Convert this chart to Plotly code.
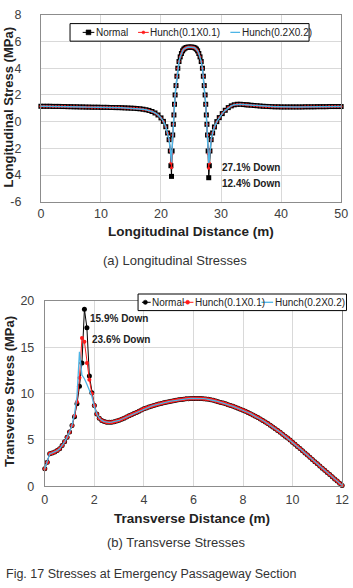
import plotly.graph_objects as go

W, H = 353, 588

# ---------------- data: (a) longitudinal stresses ----------------
long_x = [0, 0.5, 1, 1.5, 2, 2.5, 3, 3.5, 4, 4.5, 5, 5.5, 6, 6.5, 7, 7.5, 8, 8.5, 9, 9.5,
          10, 10.5, 11, 11.5, 12, 12.5, 13, 13.5, 14, 14.5, 15, 15.5, 16, 16.5, 17,
          17.5, 18, 18.5, 19, 19.5, 20, 20.4, 20.8, 21.1, 21.35, 21.55, 21.65,
          21.75,
          21.85, 21.95, 22.05, 22.15, 22.25, 22.35, 22.5, 22.65, 22.8, 23.0, 23.2, 23.4, 23.6, 23.8, 24.0, 24.2, 24.4, 24.6,
          24.85,
          25.1, 25.3, 25.5, 25.7, 25.9, 26.1, 26.3, 26.5, 26.7, 26.9, 27.05, 27.2, 27.35, 27.45, 27.55, 27.65, 27.75, 27.85,
          27.95,
          28.05, 28.15, 28.35, 28.6, 28.9, 29.3, 29.7, 30.2, 30.7, 31.2, 31.7, 32.2, 32.7, 33.2, 33.7, 34.2,
          34.5, 35, 35.5, 36, 36.5, 37, 37.5, 38, 38.5, 39, 39.5, 40, 40.5, 41, 41.5, 42, 42.5, 43, 43.5,
          44, 44.5, 45, 45.5, 46, 46.5, 47, 47.5, 48, 48.5, 49, 49.5, 50]

long_normal = [1.15, 1.15, 1.15, 1.15, 1.14, 1.14, 1.14, 1.13, 1.13, 1.12, 1.12, 1.11, 1.11, 1.10, 1.10, 1.09, 1.09, 1.08, 1.08, 1.08,
               1.07, 1.07, 1.07, 1.06, 1.06, 1.05, 1.05, 1.04, 1.03, 1.02, 1.01, 1.00, 0.98, 0.96, 0.93,
               0.89, 0.84, 0.76, 0.65, 0.50, 0.28, 0.02, -0.38, -0.85, -1.35, -2.2, -3.3,
               -4.1,
               -2.2, -1.0, -0.2, 0.5, 1.3, 2.0, 2.7, 3.4, 4.0, 4.5, 4.85, 5.1, 5.3, 5.43, 5.5, 5.55, 5.57, 5.58,
               5.58,
               5.58, 5.57, 5.55, 5.5, 5.43, 5.3, 5.1, 4.85, 4.5, 4.0, 3.4, 2.7, 2.0, 1.3, 0.5, -0.2, -1.0, -2.2,
               -4.2,
               -3.3, -2.2, -1.35, -0.85, -0.4, 0.0, 0.3, 0.6, 0.85, 1.05, 1.18, 1.26, 1.30, 1.30, 1.28, 1.26,
               1.25, 1.23, 1.21, 1.19, 1.17, 1.15, 1.14, 1.13, 1.12, 1.11, 1.11, 1.10, 1.10, 1.10, 1.10, 1.10, 1.10, 1.10, 1.10,
               1.11, 1.11, 1.11, 1.11, 1.12, 1.12, 1.12, 1.12, 1.13, 1.13, 1.13, 1.13, 1.13]

long_hunch1 = [1.15, 1.15, 1.15, 1.15, 1.14, 1.14, 1.14, 1.13, 1.13, 1.12, 1.12, 1.11, 1.11, 1.10, 1.10, 1.09, 1.09, 1.08, 1.08, 1.08,
               1.07, 1.07, 1.07, 1.06, 1.06, 1.05, 1.05, 1.04, 1.03, 1.02, 1.01, 1.00, 0.98, 0.96, 0.93,
               0.89, 0.84, 0.76, 0.65, 0.50, 0.28, 0.02, -0.38, -0.85, -1.35, -2.2, -3.1,
               -3.45,
               -2.4, -1.0, -0.2, 0.5, 1.3, 2.0, 2.7, 3.4, 4.0, 4.5, 4.85, 5.1, 5.3, 5.43, 5.5, 5.55, 5.57, 5.58,
               5.58,
               5.58, 5.57, 5.55, 5.5, 5.43, 5.3, 5.1, 4.85, 4.5, 4.0, 3.4, 2.7, 2.0, 1.3, 0.5, -0.2, -1.0, -2.4,
               -3.5,
               -3.1, -2.2, -1.35, -0.85, -0.4, 0.0, 0.3, 0.6, 0.85, 1.05, 1.18, 1.26, 1.30, 1.30, 1.28, 1.26,
               1.25, 1.23, 1.21, 1.19, 1.17, 1.15, 1.14, 1.13, 1.12, 1.11, 1.11, 1.10, 1.10, 1.10, 1.10, 1.10, 1.10, 1.10, 1.10,
               1.11, 1.11, 1.11, 1.11, 1.12, 1.12, 1.12, 1.12, 1.13, 1.13, 1.13, 1.13, 1.13]

long_hunch2 = [1.15, 1.15, 1.15, 1.15, 1.14, 1.14, 1.14, 1.13, 1.13, 1.12, 1.12, 1.11, 1.11, 1.10, 1.10, 1.09, 1.09, 1.08, 1.08, 1.08,
               1.07, 1.07, 1.07, 1.06, 1.06, 1.05, 1.05, 1.04, 1.03, 1.02, 1.01, 1.00, 0.98, 0.96, 0.93,
               0.89, 0.84, 0.76, 0.65, 0.50, 0.28, 0.02, -0.38, -0.85, -1.35, -2.1, -2.8,
               -3.05,
               -2.0, -1.0, -0.2, 0.5, 1.3, 2.0, 2.7, 3.4, 4.0, 4.5, 4.85, 5.1, 5.3, 5.43, 5.5, 5.55, 5.57, 5.58,
               5.58,
               5.58, 5.57, 5.55, 5.5, 5.43, 5.3, 5.1, 4.85, 4.5, 4.0, 3.4, 2.7, 2.0, 1.3, 0.5, -0.2, -1.0, -2.0,
               -3.1,
               -2.8, -2.1, -1.35, -0.85, -0.4, 0.0, 0.3, 0.6, 0.85, 1.05, 1.18, 1.26, 1.30, 1.30, 1.28, 1.26,
               1.25, 1.23, 1.21, 1.19, 1.17, 1.15, 1.14, 1.13, 1.12, 1.11, 1.11, 1.10, 1.10, 1.10, 1.10, 1.10, 1.10, 1.10, 1.10,
               1.11, 1.11, 1.11, 1.11, 1.12, 1.12, 1.12, 1.12, 1.13, 1.13, 1.13, 1.13, 1.13]

# ---------------- data: (b) transverse stresses ----------------
# 0 .. 3.0 m (where the three cases differ)
trans_x_head = [0.0, 0.1, 0.2, 0.3, 0.4, 0.5, 0.6, 0.7, 0.8, 0.9, 1.0, 1.1, 1.2, 1.3, 1.4, 1.5, 1.6, 1.7, 1.8, 1.9,
                2.0, 2.1, 2.2, 2.3, 2.4, 2.5, 2.6, 2.7, 2.8, 2.9, 3.0]
trans_normal_head = [1.9, 2.6, 3.5, 3.6, 3.7, 3.85, 4.05, 4.4, 4.8, 5.3, 5.85, 6.55, 7.5, 8.9, 10.8, 13.3, 19.1, 17.1, 11.9, 10.1,
                     8.7, 7.8, 7.35, 7.1, 6.98, 6.92, 6.9, 6.92, 6.97, 7.04, 7.12]
trans_hunch1_head = [1.9, 2.6, 3.5, 3.6, 3.7, 3.85, 4.05, 4.4, 4.8, 5.3, 5.85, 6.55, 7.6, 9.1, 11.7, 16.0, 15.6, 13.3, 11.5, 10.0,
                     8.7, 7.8, 7.35, 7.1, 6.98, 6.92, 6.9, 6.92, 6.97, 7.04, 7.12]
trans_hunch2_head = [1.9, 2.6, 3.5, 3.6, 3.7, 3.85, 4.05, 4.4, 4.8, 5.3, 5.85, 6.6, 7.8, 9.7, 14.5, 12.0, 11.6, 11.0, 10.3, 9.7,
                     8.6, 7.8, 7.35, 7.1, 6.98, 6.92, 6.9, 6.92, 6.97, 7.04, 7.12]
# 3.1 .. 12.0 m (the three cases coincide)
trans_x_tail = [3.1, 3.2, 3.3, 3.4, 3.5, 3.6, 3.7, 3.8, 3.9, 4.0, 4.1, 4.2, 4.3, 4.4, 4.5, 4.6, 4.7, 4.8, 4.9, 5.0,
                5.1, 5.2, 5.3, 5.4, 5.5, 5.6, 5.7, 5.8, 5.9, 6.0, 6.1, 6.2, 6.3, 6.4, 6.5, 6.6, 6.7, 6.8, 6.9, 7.0,
                7.1, 7.2, 7.3, 7.4, 7.5, 7.6, 7.7, 7.8, 7.9, 8.0, 8.1, 8.2, 8.3, 8.4, 8.5, 8.6, 8.7, 8.8, 8.9, 9.0,
                9.1, 9.2, 9.3, 9.4, 9.5, 9.6, 9.7, 9.8, 9.9, 10.0, 10.1, 10.2, 10.3, 10.4, 10.5, 10.6, 10.7, 10.8, 10.9, 11.0,
                11.1, 11.2, 11.3, 11.4, 11.5, 11.6, 11.7, 11.8, 11.9, 12.0]
trans_tail = [7.23, 7.35, 7.47, 7.6, 7.72, 7.85, 7.97, 8.1, 8.22, 8.35, 8.45, 8.55, 8.64, 8.72, 8.8, 8.87, 8.94, 9.0, 9.06, 9.12,
              9.18, 9.23, 9.28, 9.32, 9.36, 9.4, 9.43, 9.45, 9.47, 9.48, 9.48, 9.48, 9.47, 9.45, 9.42, 9.38, 9.33, 9.27, 9.2, 9.12,
              9.05, 8.97, 8.89, 8.8, 8.71, 8.62, 8.52, 8.42, 8.31, 8.2, 8.08, 7.96, 7.83, 7.7, 7.56, 7.42, 7.26, 7.1, 6.93, 6.76,
              6.58, 6.4, 6.21, 6.02, 5.82, 5.62, 5.41, 5.2, 4.98, 4.76, 4.53, 4.3, 4.07, 3.84, 3.6, 3.37, 3.13, 2.9, 2.66, 2.43,
              2.19, 1.96, 1.73, 1.5, 1.26, 1.03, 0.8, 0.57, 0.33, 0.1]

trans_x = trans_x_head + trans_x_tail
trans_normal = trans_normal_head + trans_tail
trans_hunch1 = trans_hunch1_head + trans_tail
trans_hunch2 = trans_hunch2_head + trans_tail

series_names = ["Normal", "Hunch(0.1X0.1)", "Hunch(0.2X0.2)"]
long_ticks = [-6, -4, -2, 0, 2, 4, 6, 8]
long_ticktext = ["-6", "-4", "-2", "0", "2", "4", "6", "8"]

BLACK, RED, BLUE = "#000000", "#ff1a1a", "#4db5e6"
FONT = "Liberation Sans, Arial, sans-serif"


def px(x):
    return x / W


def py(y):
    return 1 - y / H


fig = go.Figure()

# top chart traces
fig.add_trace(go.Scatter(x=long_x, y=long_normal, name=series_names[0], mode="lines+markers",
                         line=dict(color=BLACK, width=1), marker=dict(symbol="square", size=5, color=BLACK),
                         xaxis="x", yaxis="y", cliponaxis=False))
fig.add_trace(go.Scatter(x=long_x, y=long_hunch1, name=series_names[1], mode="lines+markers",
                         line=dict(color=RED, width=1), marker=dict(symbol="circle", size=3, color=RED),
                         xaxis="x", yaxis="y", cliponaxis=False))
fig.add_trace(go.Scatter(x=long_x, y=long_hunch2, name=series_names[2], mode="lines",
                         line=dict(color=BLUE, width=1.5),
                         xaxis="x", yaxis="y", cliponaxis=False))

# bottom chart traces
fig.add_trace(go.Scatter(x=trans_x, y=trans_normal, name=series_names[0], mode="lines+markers",
                         line=dict(color=BLACK, width=1), marker=dict(symbol="circle", size=5, color=BLACK),
                         xaxis="x2", yaxis="y2", cliponaxis=False))
fig.add_trace(go.Scatter(x=trans_x, y=trans_hunch1, name=series_names[1], mode="lines+markers",
                         line=dict(color=RED, width=1), marker=dict(symbol="circle", size=4, color=RED),
                         xaxis="x2", yaxis="y2", cliponaxis=False))
fig.add_trace(go.Scatter(x=trans_x, y=trans_hunch2, name=series_names[2], mode="lines",
                         line=dict(color=BLUE, width=1.3),
                         xaxis="x2", yaxis="y2", cliponaxis=False))

axis_common = dict(showgrid=True, gridcolor="#d9d9d9", gridwidth=1, zeroline=False,
                   showline=True, linecolor="#8c8c8c", linewidth=1, mirror=True,
                   ticks="", ticklabeloverflow="allow",
                   tickfont=dict(family=FONT, size=12.5, color="#404040"))

fig.update_layout(
    width=W, height=H, margin=dict(l=0, r=0, t=0, b=0),
    paper_bgcolor="white", plot_bgcolor="white", showlegend=False,
    xaxis=dict(domain=[px(39), px(348)], range=[0, 50], dtick=10, anchor="y", ticklabelstandoff=0, **axis_common),
    yaxis=dict(domain=[py(199.5), py(8)], range=[-6, 8], tickvals=long_ticks, ticktext=long_ticktext,
               anchor="x", ticklabelstandoff=16, **axis_common),
    xaxis2=dict(domain=[px(43), px(349)], range=[0, 12], dtick=2, anchor="y2", ticklabelstandoff=2, **axis_common),
    yaxis2=dict(domain=[py(491), py(301)], range=[0, 20], dtick=5, anchor="x2", ticklabelstandoff=7, **axis_common),
)

ann = []


def text(x, y, s, size=10, bold=False, xanchor="center", angle=0, color="#222222", family=FONT, ref="paper"):
    d = dict(text=("<b>%s</b>" % s) if bold else s, showarrow=False, xanchor=xanchor, yanchor="middle",
             textangle=angle, font=dict(family=family, size=size, color=color))
    if ref == "paper":
        d.update(x=px(x), y=py(y), xref="paper", yref="paper")
    else:
        d.update(x=x, y=y, xref=ref[0], yref=ref[1])
    ann.append(d)


# axis titles
text(193, 230, "Longitudinal Distance (m)", size=13.5, bold=True)
text(6, 103, "Longitudinal Stress (MPa)", size=13, bold=True, angle=-90)
text(194.5, 523.5, "Transverse Distance (m)", size=13.5, bold=True)
text(6.5, 394, "Transverse Stress (MPa)", size=13, bold=True, angle=-90)

# data notes
text(29.8, -3.4, "27.1% Down", bold=True, xanchor="left", ref=("x", "y"))
text(29.8, -4.6, "12.4% Down", bold=True, xanchor="left", ref=("x", "y"))
text(1.75, 18.1, "15.9% Down", bold=True, xanchor="left", ref=("x2", "y2"))
text(1.83, 15.8, "23.6% Down", bold=True, xanchor="left", ref=("x2", "y2"))

# captions
text(177.5, 260, "(a) Longitudinal Stresses", size=13, color="#333333")
text(178, 549, "(b) Transverse Stresses", size=13, color="#333333")
text(1, 581, "Fig. 17 Stresses at Emergency Passageway Section", size=12.5, color="#333333", xanchor="left")

shapes = []


def rect(x0, y0, x1, y1, line="#000000", fill="white", lw=1):
    shapes.append(dict(type="rect", xref="paper", yref="paper", x0=px(x0), x1=px(x1), y0=py(y1), y1=py(y0),
                       line=dict(color=line, width=lw), fillcolor=fill, layer="above"))


def seg(x0, x1, y, color, lw=1):
    shapes.append(dict(type="line", xref="paper", yref="paper", x0=px(x0), x1=px(x1), y0=py(y), y1=py(y),
                       line=dict(color=color, width=lw), layer="above"))


def dot(cx, cy, r, color):
    shapes.append(dict(type="circle", xref="paper", yref="paper", x0=px(cx - r), x1=px(cx + r),
                       y0=py(cy + r), y1=py(cy - r), line=dict(color=color, width=0.5), fillcolor=color,
                       layer="above"))


# legend (a)
rect(69, 17, 315, 35)
ly = 26
seg(82, 94, ly, BLACK)
rect(85.5, ly - 2.5, 90.5, ly + 2.5, line=BLACK, fill=BLACK, lw=0.5)
text(94, ly, series_names[0], xanchor="left")
seg(139, 150, ly, RED)
dot(144.5, ly, 1.5, RED)
text(149.5, ly, series_names[1], xanchor="left")
seg(234, 244, ly, BLUE, 1.3)
text(244, ly, series_names[2], xanchor="left")

# legend (b)
rect(139, 294, 353.5, 311)
ly2 = 302.5
seg(143, 152, ly2, BLACK)
dot(146.5, ly2, 2.2, BLACK)
text(151, ly2, series_names[0], xanchor="left")
seg(185, 196, ly2, RED)
dot(190, ly2, 2, RED)
text(195.5, ly2, series_names[1], xanchor="left")
seg(266, 278, ly2, BLUE, 1.3)
text(278, ly2, series_names[2], xanchor="left")

fig.update_layout(annotations=ann, shapes=shapes)
fig.write_html("out.html",
               post_script="document.documentElement.style.margin='0';document.body.style.margin='0';"
                           "document.body.style.overflow='hidden';")
